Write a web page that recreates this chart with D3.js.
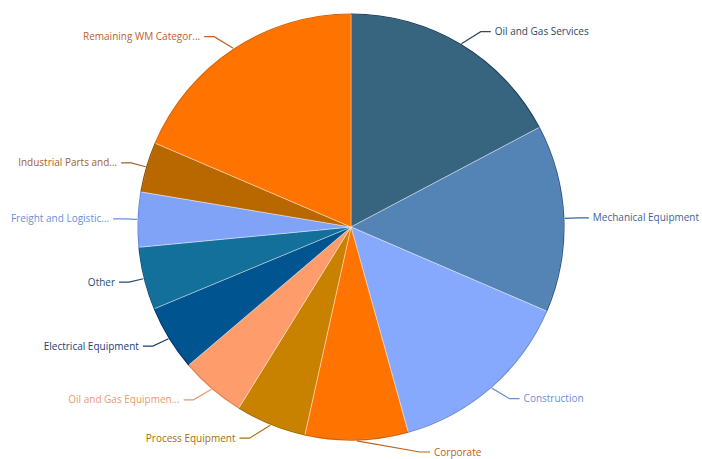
<!DOCTYPE html>
<html>
<head>
<meta charset="utf-8">
<script src="https://cdn.jsdelivr.net/npm/d3@7"></script>
<style>
  html, body { margin: 0; padding: 0; background: #fff; }
  svg { display: block; }
</style>
</head>
<body>
<svg id="chart" width="702" height="459"></svg>
<script>
const categories = [
  "Oil and Gas Services", "Mechanical Equipment", "Construction", "Corporate",
  "Process Equipment", "Oil and Gas Equipmen...", "Electrical Equipment", "Other",
  "Freight and Logistic...", "Industrial Parts and...", "Remaining WM Categor..."
];
const values = [17.25, 14.2, 14.2, 7.8, 5.35, 4.95, 4.95, 4.75, 4.15, 3.8, 18.55];
const fillColors = [
  "#37647F", "#5484B6", "#87A9FD", "#FF7300", "#C88200", "#FF9C6B",
  "#005490", "#13709A", "#80A3F7", "#B96800", "#FF7400"
];
const labelColors = [
  "#2B4A60", "#3C6496", "#6B8ED4", "#C2600F", "#A66E0E", "#E89A6E",
  "#1C3D78", "#2A4C78", "#6A8FD6", "#A2622C", "#C2621C"
];
const edgeColors = [
  "#1E3E5C", "#2F5F8E", "#6E8FDA", "#D65F00", "#A56B00", "#E0855A",
  "#00306E", "#0E5580", "#6A8BDD", "#8F5000", "#D86200"
];

const data = categories.map((c, i) => ({ name: c, value: values[i], i }));

const W = 702, H = 459;
const svg = d3.select("#chart");
const cx = 351, cy = 227, r = 213;
const g = svg.append("g").attr("transform", `translate(${cx},${cy})`);

const pie = d3.pie().value(d => d.value).sort(null);
const arcs = pie(data);
const arc = d3.arc().innerRadius(0).outerRadius(r);
const rim = d3.arc().innerRadius(r - 0.6).outerRadius(r + 0.6);

g.selectAll("path.slice").data(arcs).join("path")
  .attr("class", "slice")
  .attr("d", arc)
  .attr("fill", d => fillColors[d.data.i])
  .attr("stroke", "rgba(255,255,255,0.55)")
  .attr("stroke-width", 0.7);

g.selectAll("path.rim").data(arcs).join("path")
  .attr("class", "rim")
  .attr("d", rim)
  .attr("fill", d => edgeColors[d.data.i]);

const font = "'Open Sans', 'Segoe UI', sans-serif";

arcs.forEach(d => {
  const mid = (d.startAngle + d.endAngle) / 2;
  const s = Math.sin(mid), c = -Math.cos(mid);
  const p0 = [s * (r + 1), c * (r + 1)];
  const rr = r + 15;
  const side = s >= 0 ? 1 : -1;
  let ex = s * rr + side * 25 * (1 - Math.abs(s));
  let ey = Math.min(c * rr, H - cy - 7);
  if (Math.abs(ex) < 69) ex = side * 69;
  let hx = ex + side * 10;
  const col = labelColors[d.data.i];
  const t = g.append("text")
    .attr("y", ey)
    .attr("dy", "0.35em")
    .attr("text-anchor", side > 0 ? "start" : "end")
    .attr("font-family", font)
    .attr("font-size", 10)
    .attr("fill", col)
    .text(d.data.name);
  const tw = t.node().getComputedTextLength();
  if (side > 0 && cx + hx + 4 + tw > W - 2) hx = W - 2 - cx - 4 - tw;
  if (side < 0 && cx + hx - 4 - tw < 2) hx = 2 - cx + 4 + tw;
  t.attr("x", hx + side * 4);
  g.insert("polyline", "text")
    .attr("points", [p0, [ex, ey], [hx, ey]].map(p => p.join(",")).join(" "))
    .attr("fill", "none")
    .attr("stroke", col)
    .attr("stroke-width", 1.2);
});
</script>
</body>
</html>
